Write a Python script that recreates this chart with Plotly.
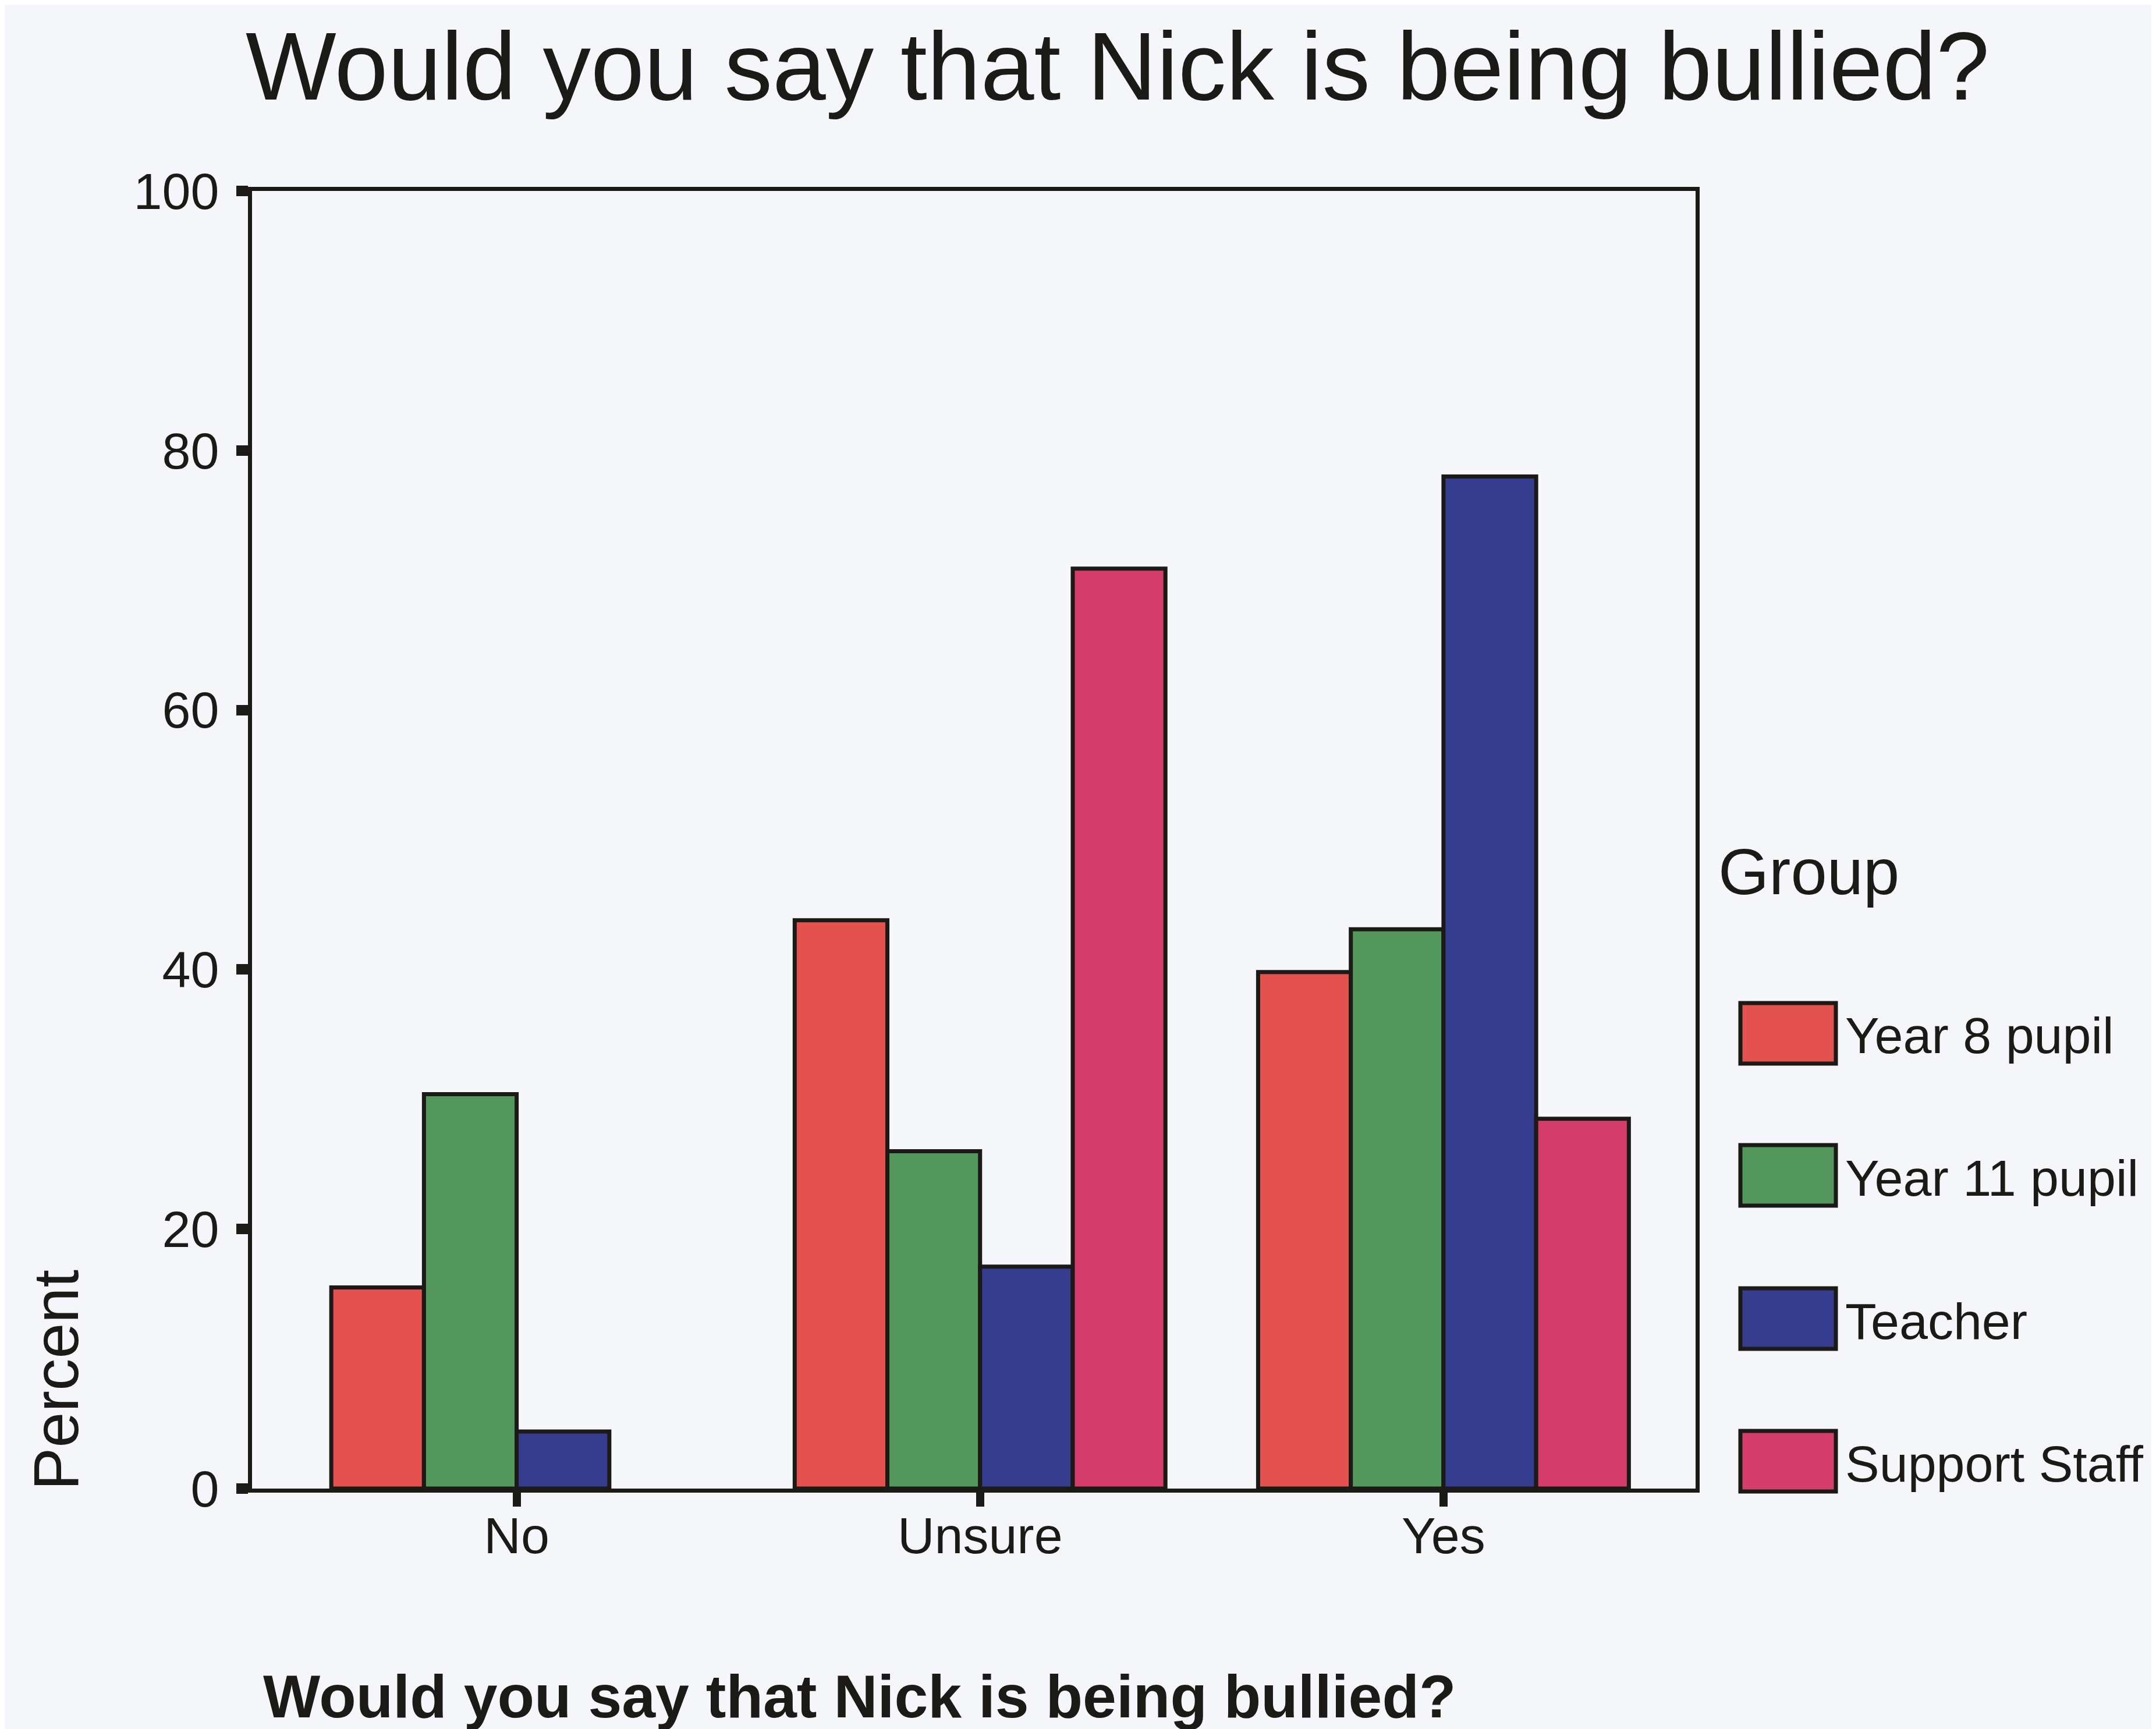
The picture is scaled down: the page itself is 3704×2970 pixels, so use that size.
import plotly.graph_objects as go

categories = ["No", "Unsure", "Yes"]
groups = ["Year 8 pupil", "Year 11 pupil", "Teacher", "Support Staff"]
year8 = [15.5, 43.8, 39.8]
year11 = [30.4, 26.0, 43.1]
teacher = [4.4, 17.1, 78.0]
support = [None, 70.9, 28.5]
series = [year8, year11, teacher, support]
colors = ["#E4524F", "#54975C", "#363C8E", "#D63D6F"]
y_ticks = [0, 20, 40, 60, 80, 100]

FONT = "Liberation Sans, Arial, sans-serif"
INK = "#1c1a17"
W, H = 3704, 2970
L, R, T, B = 425, 2905, 320, 2549

def px(x):
    return (x - L) / (R - L)

def py(y):
    return (B - y) / (B - T)

fig = go.Figure()
for name, vals, col in zip(groups, series, colors):
    fig.add_trace(go.Bar(
        x=categories, y=vals, name=name,
        marker=dict(color=col, line=dict(color=INK, width=7)),
        showlegend=False,
    ))

annotations = [
    dict(text="Would you say that Nick is being bullied?", x=px(1912), y=py(106),
         xref="paper", yref="paper", xanchor="center", yanchor="middle", showarrow=False,
         font=dict(family=FONT, size=165, color=INK)),
    dict(text="<b>Would you say that Nick is being bullied?</b>", x=px(1468), y=py(2906),
         xref="paper", yref="paper", xanchor="center", yanchor="middle", showarrow=False,
         font=dict(family=FONT, size=104, color=INK)),
    dict(text="Percent", x=px(87), y=py(2363), textangle=-90,
         xref="paper", yref="paper", xanchor="center", yanchor="middle", showarrow=False,
         font=dict(family=FONT, size=110, color=INK)),
    dict(text="Group", x=px(2942), y=py(1490),
         xref="paper", yref="paper", xanchor="left", yanchor="middle", showarrow=False,
         font=dict(family=FONT, size=112, color=INK)),
]

shapes = []
centers = [1767, 2011, 2257, 2502]
for name, col, cy in zip(groups, colors, centers):
    shapes.append(dict(type="rect", xref="paper", yref="paper",
                       x0=px(2982), x1=px(3146), y0=py(cy - 52), y1=py(cy + 52),
                       fillcolor=col, line=dict(color=INK, width=7)))
    annotations.append(dict(text=name, x=px(3160), y=py(cy + 4),
                            xref="paper", yref="paper", xanchor="left", yanchor="middle",
                            showarrow=False, font=dict(family=FONT, size=88, color=INK)))

fig.update_layout(
    width=W, height=H,
    margin=dict(l=L, r=W - R, t=T, b=H - B, pad=0),
    paper_bgcolor="#F5F6FA", plot_bgcolor="#F6F7FB",
    barmode="group", bargap=0.2, bargroupgap=0,
    font=dict(family=FONT, size=88, color=INK),
    annotations=annotations, shapes=shapes,
    xaxis=dict(range=[-0.571, 2.544], showline=True, mirror=True, linecolor=INK, linewidth=7,
               ticks="outside", ticklen=24, tickwidth=14, tickcolor=INK,
               showgrid=False, zeroline=False, ticklabelstandoff=-26,
               tickfont=dict(family=FONT, size=88, color=INK)),
    yaxis=dict(range=[0, 100], tickvals=y_ticks, showline=True, mirror=True, linecolor=INK,
               linewidth=7, ticks="outside", ticklen=20, tickwidth=18, tickcolor=INK,
               showgrid=False, zeroline=False, ticklabelstandoff=12,
               tickfont=dict(family=FONT, size=88, color=INK)),
)

fig.write_html("out.html")
